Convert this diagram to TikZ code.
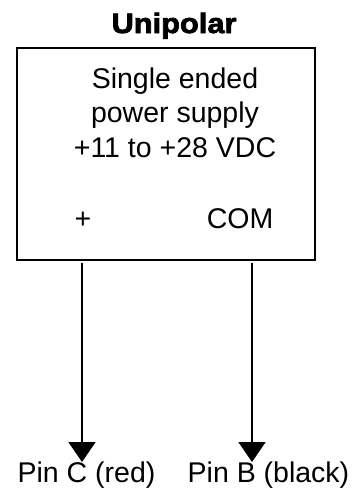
\documentclass[tikz,border=0pt]{standalone}
\usepackage{fontspec}
\setmainfont{Liberation Sans}
\newfontfamily\titlefont[FakeBold=2.6,FakeStretch=1.1]{Liberation Sans Bold}
\usetikzlibrary{arrows.meta}
\begin{document}
\begin{tikzpicture}[x=1pt,y=-1pt,
  lbl/.style={anchor=base,inner sep=0pt,font=\fontsize{28.5}{30}\selectfont},
  wire/.style={line width=1.7pt,-{Triangle[length=20pt,width=27pt]}}]
\useasboundingbox (0,0) rectangle (353,496);
\node[anchor=base,inner sep=0pt,font=\titlefont\fontsize{28}{30}\selectfont] (title) at (174,33) {Unipolar};
\draw[line width=2pt] (17,48) rectangle (315,260);
\node[lbl] (l1) at (175,88) {Single ended};
\node[lbl] (l2) at (175,122) {power supply};
\node[lbl] (l3) at (175,157) {+11 to +28 VDC};
\node[lbl] (plus) at (83,228) {+};
\node[lbl] (com) at (240,228) {COM};
\coordinate (s1) at (82,263);
\coordinate (e1) at (82,462);
\coordinate (s2) at (252,263);
\coordinate (e2) at (252,462);
\draw[wire] (s1) -- (e1);
\draw[wire] (s2) -- (e2);
\node[lbl] (pinc) at (86.5,482) {Pin C (red)};
\node[lbl] (pinb) at (268.5,482) {Pin B (black)};
\end{tikzpicture}
\end{document}
